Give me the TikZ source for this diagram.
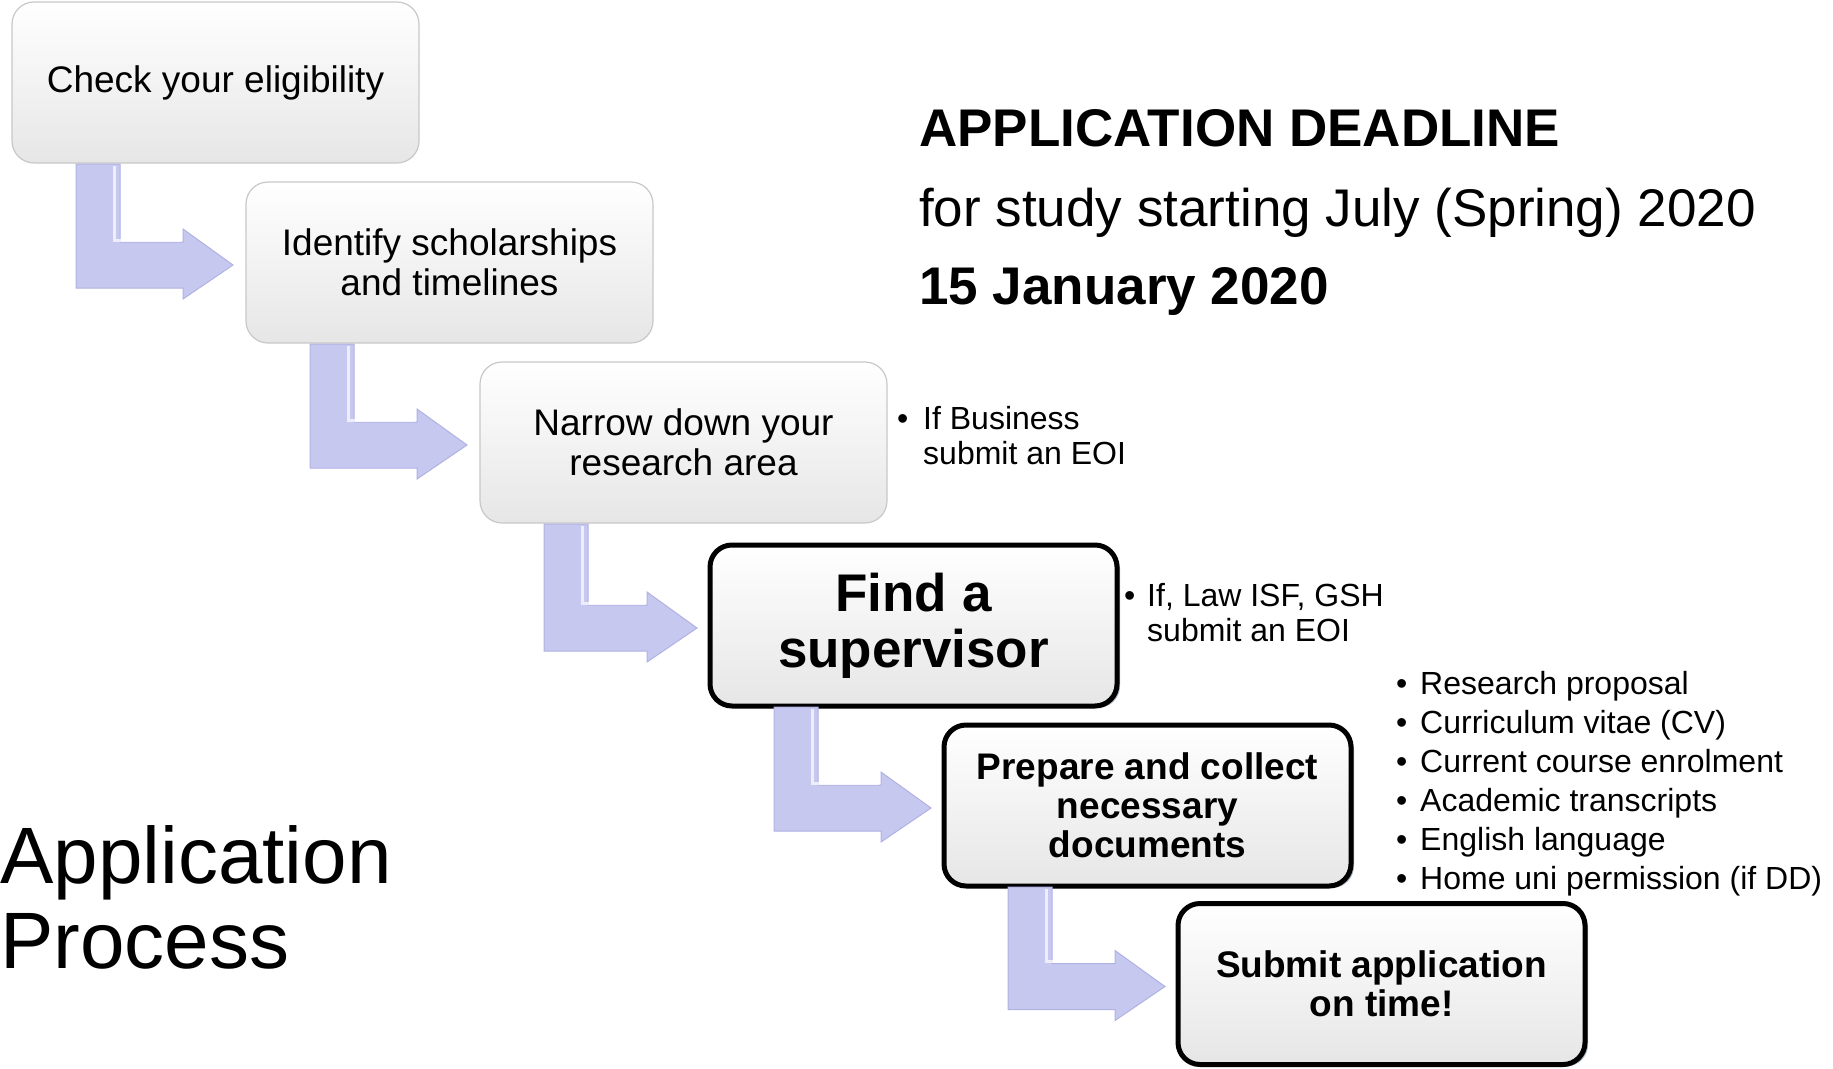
\documentclass[tikz,border=0pt]{standalone}
\usepackage{fontspec}
\setmainfont{Liberation Sans}
\usetikzlibrary{calc,shadows}
\definecolor{arrowc}{RGB}{198,200,240}
\definecolor{arrowin}{RGB}{214,216,248}
\definecolor{arrowedge}{RGB}{176,178,226}
\definecolor{boxedge}{RGB}{200,200,200}
\definecolor{boxbot}{RGB}{230,230,230}
\definecolor{shadowc}{RGB}{110,130,150}
\newcommand\flowarrow[2]{%
  \coordinate (s#1) at ($(#1.south west)+(64,1)$);
  \coordinate (t#1) at ($(#2.west)+(-13,2.5)$);
  \coordinate (u#1) at ($(t#1)+(-52,-25)$);
  \path[arrowshape] (s#1) -- ++(44,0) |- ($(t#1)+(-50,-23)$) -- ($(t#1)+(-50,-36)$)
     -- (t#1) -- ($(t#1)+(-50,34)$) -- ($(t#1)+(-50,23)$) -| (s#1) -- cycle;
  \draw[white, line width=3pt, opacity=0.7] ($(s#1)+(38,2)$) |- (u#1);
}
\begin{document}
\begin{tikzpicture}[x=1pt,y=-1pt,
  stepbox/.style={rounded corners=22pt, minimum width=407pt, minimum height=161pt,
    align=center, top color=white, bottom color=boxbot, draw=boxedge, line width=1.2pt,
    inner sep=0pt, outer sep=0pt, font=\fontsize{37}{40}\selectfont},
  keybox/.style={stepbox, draw=black, line width=5pt,
    drop shadow={shadow xshift=3pt, shadow yshift=-2pt, fill=shadowc, opacity=0.6}},
  arrowshape/.style={fill=arrowc, draw=arrowedge, line width=1pt},
  side/.style={font=\fontsize{32}{35}\selectfont, inner sep=0pt, anchor=base west},
  head/.style={font=\fontsize{53}{60}\selectfont, inner sep=0pt, anchor=base west},
  bigtitle/.style={font=\fontsize{80}{85}\selectfont, inner sep=0pt, anchor=base west}]
\useasboundingbox (0,0) rectangle (1833,1068);

\node[stepbox] (b1) at (215.5,82.5) {Check your eligibility};
\node[stepbox] (b2) at (449.5,262.5) {Identify scholarships\\and timelines};
\node[stepbox] (b3) at (683.5,442.5) {Narrow down your\\research area};
\node[keybox, font=\fontsize{53}{56}\selectfont\bfseries] (b4) at (913.5,625.5) {Find a\\supervisor};
\node[keybox, font=\fontsize{37}{39}\selectfont\bfseries] (b5) at (1147.5,805.5) {Prepare and collect\\necessary\\documents};
\node[keybox, font=\fontsize{37}{39}\selectfont\bfseries] (b6) at (1381.5,984) {Submit application\\on time!};

\flowarrow{b1}{b2}
\flowarrow{b2}{b3}
\flowarrow{b3}{b4}
\flowarrow{b4}{b5}
\flowarrow{b5}{b6}

\node[head] (h1) at (919,146) {\bfseries APPLICATION DEADLINE};
\node[head] (h2) at (919,226) {for study starting July (Spring) 2020};
\node[head] (h3) at (919,304) {\bfseries 15 January 2020};

\node[bigtitle] (t1) at (0,883) {Application};
\node[bigtitle] (t2) at (0,968) {Process};

\node[side] (e1b) at (897,429) {•};
\node[side] (e1) at (923,429) {If Business};
\node[side] (e1c) at (923,464) {submit an EOI};
\node[side] (e2b) at (1124,606) {•};
\node[side] (e2) at (1147,606) {If, Law ISF, GSH};
\node[side] (e2c) at (1147,641) {submit an EOI};

\node[side] (l1b) at (1396,694) {•};
\node[side] (l1) at (1420,694) {Research proposal};
\node[side] (l2b) at (1396,733) {•};
\node[side] (l2) at (1420,733) {Curriculum vitae (CV)};
\node[side] (l3b) at (1396,772) {•};
\node[side] (l3) at (1420,772) {Current course enrolment};
\node[side] (l4b) at (1396,811) {•};
\node[side] (l4) at (1420,811) {Academic transcripts};
\node[side] (l5b) at (1396,850) {•};
\node[side] (l5) at (1420,850) {English language};
\node[side] (l6b) at (1396,889) {•};
\node[side] (l6) at (1420,889) {Home uni permission (if DD)};
\end{tikzpicture}
\end{document}
